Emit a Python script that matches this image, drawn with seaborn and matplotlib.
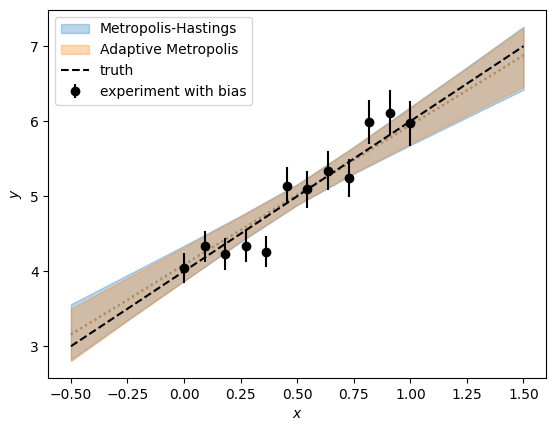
import numpy as np
import pandas as pd
import matplotlib
matplotlib.use("Agg")
import matplotlib.pyplot as plt
import seaborn as sns
from matplotlib.patches import Patch
from matplotlib.lines import Line2D

# measured points (experiment with bias)
x_obs = [0.0, 0.0909, 0.1818, 0.2727, 0.3636, 0.4545, 0.5455, 0.6364, 0.7273, 0.8182, 0.9091, 1.0]
y_obs = [4.04, 4.33, 4.23, 4.34, 4.26, 5.14, 5.09, 5.34, 5.24, 5.99, 6.11, 5.97]
y_err = [0.20, 0.21, 0.21, 0.22, 0.21, 0.25, 0.25, 0.26, 0.25, 0.29, 0.30, 0.30]

# grid for the bands and lines
x_grid = [-0.5, -0.25, 0.0, 0.25, 0.5, 0.75, 1.0, 1.25, 1.5]
truth = [3.0, 3.5, 4.0, 4.5, 5.0, 5.5, 6.0, 6.5, 7.0]

# Metropolis-Hastings band + median
mh_lo = [2.82, 3.35, 3.87, 4.39, 4.88, 5.30, 5.68, 6.05, 6.42]
mh_hi = [3.56, 3.95, 4.34, 4.74, 5.16, 5.66, 6.19, 6.72, 7.26]
mh_med = [3.16, 3.62, 4.09, 4.55, 5.02, 5.48, 5.95, 6.41, 6.88]

# Adaptive Metropolis band + median
am_lo = [2.80, 3.34, 3.87, 4.40, 4.89, 5.31, 5.70, 6.08, 6.46]
am_hi = [3.50, 3.91, 4.32, 4.73, 5.15, 5.65, 6.18, 6.71, 7.24]
am_med = [3.15, 3.61, 4.08, 4.55, 5.01, 5.48, 5.94, 6.41, 6.87]

df_grid = pd.DataFrame({'x': x_grid, 'truth': truth, 'mh_med': mh_med, 'am_med': am_med})

fig = plt.figure(figsize=(5.55, 4.32), dpi=100)
ax = fig.add_axes([0.087, 0.125, 0.897, 0.852])

c_mh = sns.color_palette()[0]
c_am = sns.color_palette()[1]

ax.fill_between(x_grid, mh_lo, mh_hi, color=c_mh, alpha=0.3)
ax.fill_between(x_grid, am_lo, am_hi, color=c_am, alpha=0.3)
sns.lineplot(data=df_grid, x='x', y='mh_med', ax=ax, color=c_mh, linestyle=':', alpha=0.6, lw=1.5)
sns.lineplot(data=df_grid, x='x', y='am_med', ax=ax, color=c_am, linestyle=':', alpha=0.6, lw=1.5)
sns.lineplot(data=df_grid, x='x', y='truth', ax=ax, color='k', linestyle='--', lw=1.5)

ax.errorbar(x_obs, y_obs, yerr=y_err, fmt='o', color='k', ms=6, elinewidth=1.5)

ax.set_xlabel('$x$')
ax.set_ylabel('$y$')

# legend in the same order as the original
handles = [
    Patch(facecolor=c_mh, alpha=0.3, edgecolor=c_mh),
    Patch(facecolor=c_am, alpha=0.3, edgecolor=c_am),
    Line2D([], [], color='k', linestyle='--'),
    ax.containers[0],
]
labels = ['Metropolis-Hastings', 'Adaptive Metropolis', 'truth', 'experiment with bias']
ax.legend(handles, labels, loc='upper left')

fig.savefig('out.png', dpi=100)
